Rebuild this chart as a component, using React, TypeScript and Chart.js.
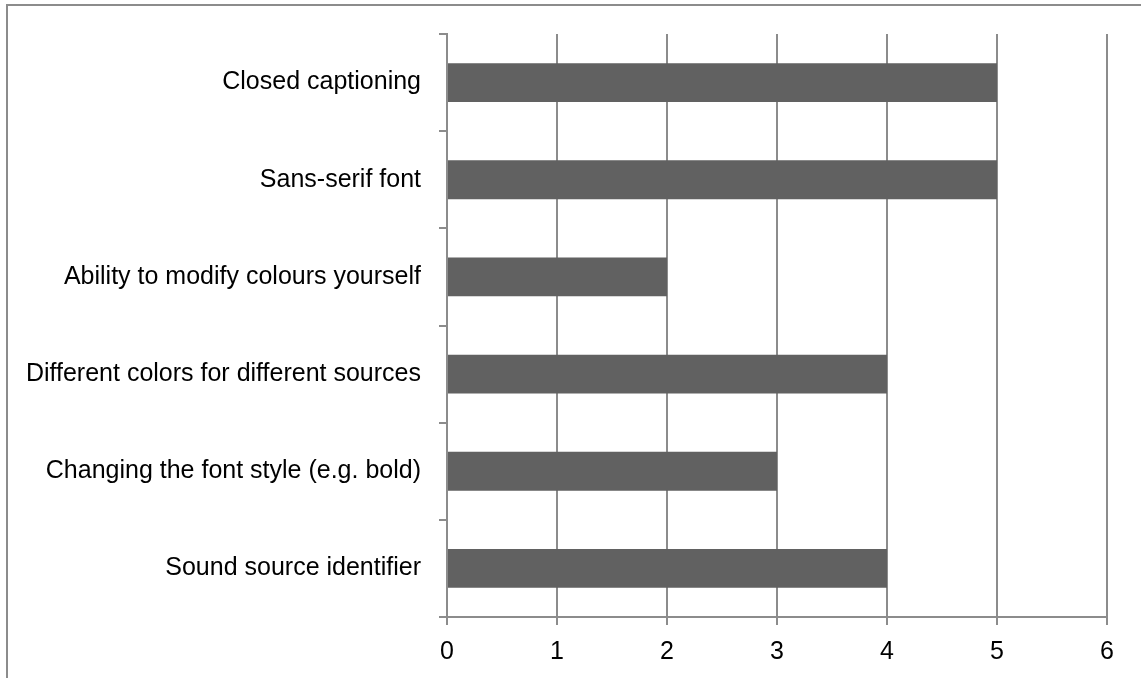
import React, { useEffect, useRef } from "react";
import { Chart, registerables } from "chart.js";

Chart.register(...registerables);

const categories = [
  "Closed captioning",
  "Sans-serif font",
  "Ability to modify colours yourself",
  "Different colors for different sources",
  "Changing the font style (e.g. bold)",
  "Sound source identifier",
];
const values = [5, 5, 2, 4, 3, 4];
const xMin = 0;
const xMax = 6;
const xStep = 1;

const FONT = "'Liberation Sans', Arial, sans-serif";
const GRID = "#8c8c8c";
const BAR = "#616161";

export default function App() {
  const ref = useRef<HTMLCanvasElement | null>(null);

  useEffect(() => {
    if (!ref.current) return;
    const chart = new Chart(ref.current, {
      type: "bar",
      data: {
        labels: categories,
        datasets: [
          {
            data: values,
            backgroundColor: BAR,
            borderWidth: 0,
            barPercentage: 0.4,
            categoryPercentage: 1,
          },
        ],
      },
      options: {
        indexAxis: "y",
        animation: false,
        responsive: false,
        devicePixelRatio: 1,
        layout: { padding: { top: 34, right: 34, left: 0, bottom: 0 } },
        plugins: { legend: { display: false }, tooltip: { enabled: false } },
        scales: {
          x: {
            min: xMin,
            max: xMax,
            ticks: {
              stepSize: xStep,
              color: "#000",
              font: { family: FONT, size: 25 },
              padding: 12,
            },
            grid: {
              color: GRID,
              lineWidth: 2,
              tickLength: 8,
              drawTicks: true,
            },
            border: { color: GRID, width: 2 },
            afterFit: (s: any) => {
              s.height = 61;
            },
          },
          y: {
            ticks: {
              color: "#000",
              font: { family: FONT, size: 25 },
              padding: 18,
            },
            grid: {
              color: GRID,
              lineWidth: 2,
              drawOnChartArea: false,
              drawTicks: true,
              tickLength: 8,
              offset: true,
            },
            border: { color: GRID, width: 2 },
            afterFit: (s: any) => {
              s.width = 447;
            },
          },
        },
      },
    });
    return () => chart.destroy();
  }, []);

  return (
    <div
      style={{
        position: "fixed",
        left: 0,
        top: 0,
        width: 1141,
        height: 678,
        overflow: "hidden",
        background: "#fff",
      }}
    >
      <div
        style={{
          position: "absolute",
          left: 6,
          top: 4,
          width: 1300,
          height: 900,
          border: "2px solid #8c8c8c",
        }}
      />
      <canvas
        ref={ref}
        width={1141}
        height={678}
        style={{ position: "absolute", left: 0, top: 0, width: 1141, height: 678 }}
      />
    </div>
  );
}
